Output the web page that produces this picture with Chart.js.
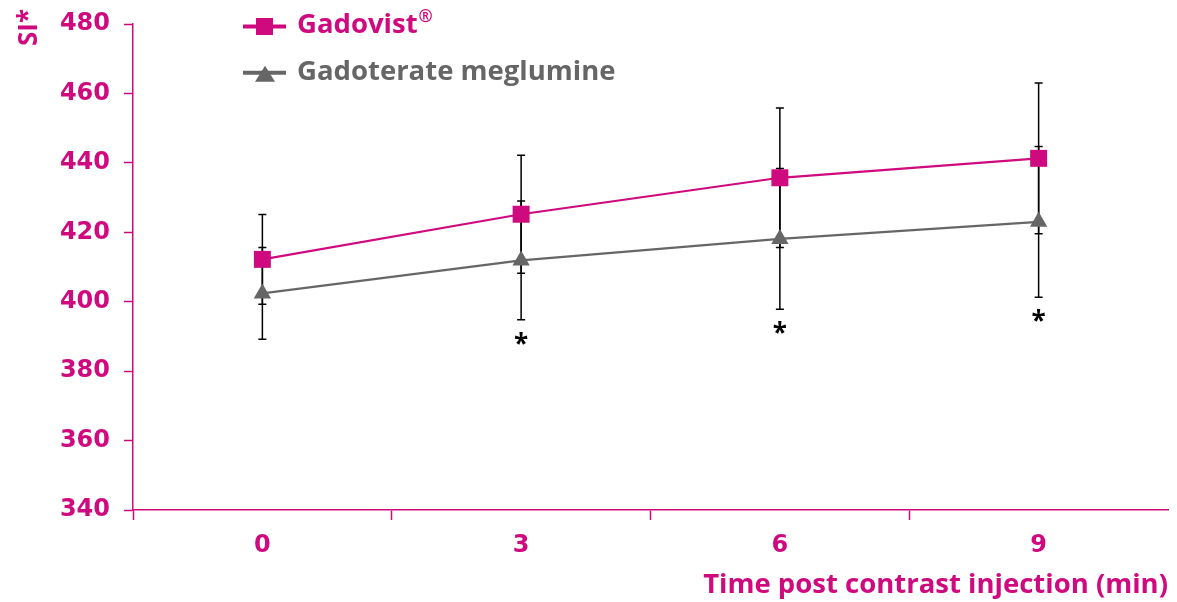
<!DOCTYPE html>
<html lang="en">
<head>
    <meta charset="UTF-8">
    <title>Signal intensity over time</title>
    <script src="https://cdn.jsdelivr.net/npm/chart.js"></script>
    <style>
        html, body { margin: 0; padding: 0; background: #fff; }
        .wrap { position: relative; width: 1177px; height: 602px; }
    </style>
</head>
<body>
    <div class="wrap">
        <canvas id="siChart"></canvas>
    </div>

    <script>
        // Data
        const timePoints = ['0', '3', '6', '9'];
        const gadovistMean = [412.2, 425.2, 435.7, 441.3];
        const gadovistSD = [12.9, 17.0, 20.1, 21.7];
        const gadoterateMean = [402.4, 411.9, 418.1, 423.0];
        const gadoterateSD = [13.2, 17.1, 20.3, 21.7];
        const significance = ['', '*', '*', '*'];
        const yMin = 340, yMax = 480, yStep = 20;

        const MAGENTA = '#cf0a7f';
        const GREY = '#666666';
        const TEXT_FONT = '"Open Sans", "Noto Sans", sans-serif';

        // Error bars + significance stars, drawn under the markers
        const errorBarPlugin = {
            id: 'errorBars',
            beforeDatasetsDraw(chart) {
                const ctx = chart.ctx;
                const x = chart.scales.x, y = chart.scales.y;
                ctx.save();
                ctx.strokeStyle = '#000';
                ctx.lineWidth = 1.5;
                chart.data.datasets.forEach(ds => {
                    ds.data.forEach((v, i) => {
                        const px = x.getPixelForValue(i);
                        const top = y.getPixelForValue(v + ds.sd[i]);
                        const bot = y.getPixelForValue(v - ds.sd[i]);
                        ctx.beginPath();
                        ctx.moveTo(px, top); ctx.lineTo(px, bot);
                        ctx.moveTo(px - 4, top); ctx.lineTo(px + 4, top);
                        ctx.moveTo(px - 4, bot); ctx.lineTo(px + 4, bot);
                        ctx.stroke();
                    });
                });
                // asterisks below the lower whisker
                ctx.fillStyle = '#000';
                ctx.font = 'bold 26px ' + TEXT_FONT;
                ctx.textAlign = 'center';
                ctx.textBaseline = 'alphabetic';
                const asc = ctx.measureText('*').actualBoundingBoxAscent;
                significance.forEach((s, i) => {
                    if (!s) return;
                    const low = Math.max(
                        y.getPixelForValue(gadovistMean[i] - gadovistSD[i]),
                        y.getPixelForValue(gadoterateMean[i] - gadoterateSD[i])
                    );
                    ctx.fillText(s, x.getPixelForValue(i), low + 12 + asc);
                });
                ctx.restore();
            },
            afterDraw(chart) {
                const ctx = chart.ctx;
                const area = chart.chartArea;
                ctx.save();
                // y axis title, rotated, at the top
                ctx.fillStyle = MAGENTA;
                ctx.font = 'bold 26px ' + TEXT_FONT;
                ctx.translate(37, 46);
                ctx.rotate(-Math.PI / 2);
                ctx.textAlign = 'left';
                ctx.textBaseline = 'alphabetic';
                ctx.fillText('SI*', 0, 0);
                ctx.restore();

                // legend inside the plot
                ctx.save();
                chart.data.datasets.forEach((ds, i) => {
                    const cy = area.top + 2.5 + i * 46.2;
                    ctx.strokeStyle = ds.borderColor;
                    ctx.lineWidth = 4;
                    ctx.beginPath();
                    ctx.moveTo(243, cy); ctx.lineTo(286, cy);
                    ctx.stroke();
                    ctx.fillStyle = ds.borderColor;
                    ctx.beginPath();
                    if (ds.pointStyle === 'rect') {
                        ctx.rect(256, cy - 8.5, 17, 17);
                    } else {
                        ctx.moveTo(265, cy - 7);
                        ctx.lineTo(275, cy + 9);
                        ctx.lineTo(255, cy + 9);
                        ctx.closePath();
                    }
                    ctx.fill();
                    ctx.font = 'bold 27.5px ' + TEXT_FONT;
                    ctx.textAlign = 'left';
                    ctx.textBaseline = 'middle';
                    const txt = ds.label;
                    ctx.fillText(txt, 297, cy - 1);
                    if (ds.mark) {
                        const w = ctx.measureText(txt).width;
                        ctx.font = 'bold 17px ' + TEXT_FONT;
                        ctx.fillText(ds.mark, 297 + w + 1, cy - 9);
                    }
                });
                ctx.restore();
            }
        };

        const ctx = document.getElementById('siChart').getContext('2d');
        new Chart(ctx, {
            type: 'line',
            data: {
                labels: timePoints,
                datasets: [
                    {
                        label: 'Gadovist',
                        mark: '®',
                        data: gadovistMean,
                        sd: gadovistSD,
                        borderColor: MAGENTA,
                        backgroundColor: MAGENTA,
                        borderWidth: 2.2,
                        pointStyle: 'rect',
                        pointRadius: 12,
                        pointBorderWidth: 0,
                        tension: 0
                    },
                    {
                        label: 'Gadoterate meglumine',
                        data: gadoterateMean,
                        sd: gadoterateSD,
                        borderColor: GREY,
                        backgroundColor: GREY,
                        borderWidth: 2.2,
                        pointStyle: 'triangle',
                        pointRadius: 10,
                        pointBorderWidth: 0,
                        tension: 0
                    }
                ]
            },
            options: {
                responsive: true,
                maintainAspectRatio: false,
                animation: false,
                events: [],
                layout: { autoPadding: false, padding: { top: 24, right: 9, left: 0, bottom: 0 } },
                plugins: {
                    legend: { display: false },
                    tooltip: { enabled: false }
                },
                scales: {
                    x: {
                        type: 'category',
                        offset: true,
                        afterFit(scale) {
                            scale.height = 92;
                            scale.paddingLeft = 0;
                            scale.paddingRight = 0;
                        },
                        grid: {
                            offset: true,
                            drawOnChartArea: false,
                            drawTicks: true,
                            tickLength: 10,
                            tickWidth: 1.5,
                            // no tick at the far right end
                            color: c => c.type === 'tick' ? MAGENTA : 'rgba(0,0,0,0)'
                        },
                        border: { display: true, color: MAGENTA, width: 1.5 },
                        ticks: {
                            color: MAGENTA,
                            padding: 11,
                            font: { family: 'DejaVu Sans', weight: 'bold', size: 24 }
                        },
                        title: {
                            display: true,
                            text: 'Time post contrast injection (min)',
                            align: 'end',
                            color: MAGENTA,
                            padding: { top: 0, bottom: 0 },
                            font: { family: TEXT_FONT, weight: 'bold', size: 27.5 }
                        }
                    },
                    y: {
                        min: yMin,
                        max: yMax,
                        afterFit(scale) {
                            scale.width = 133;
                            scale.paddingTop = 0;
                            scale.paddingBottom = 0;
                        },
                        grid: {
                            drawOnChartArea: false,
                            drawTicks: true,
                            tickLength: 9,
                            tickWidth: 1.5,
                            color: MAGENTA
                        },
                        border: { display: true, color: MAGENTA, width: 1.5 },
                        ticks: {
                            stepSize: yStep,
                            color: MAGENTA,
                            padding: 14,
                            font: { family: 'DejaVu Sans', weight: 'bold', size: 24 }
                        }
                    }
                }
            },
            plugins: [errorBarPlugin]
        });
    </script>
</body>
</html>
